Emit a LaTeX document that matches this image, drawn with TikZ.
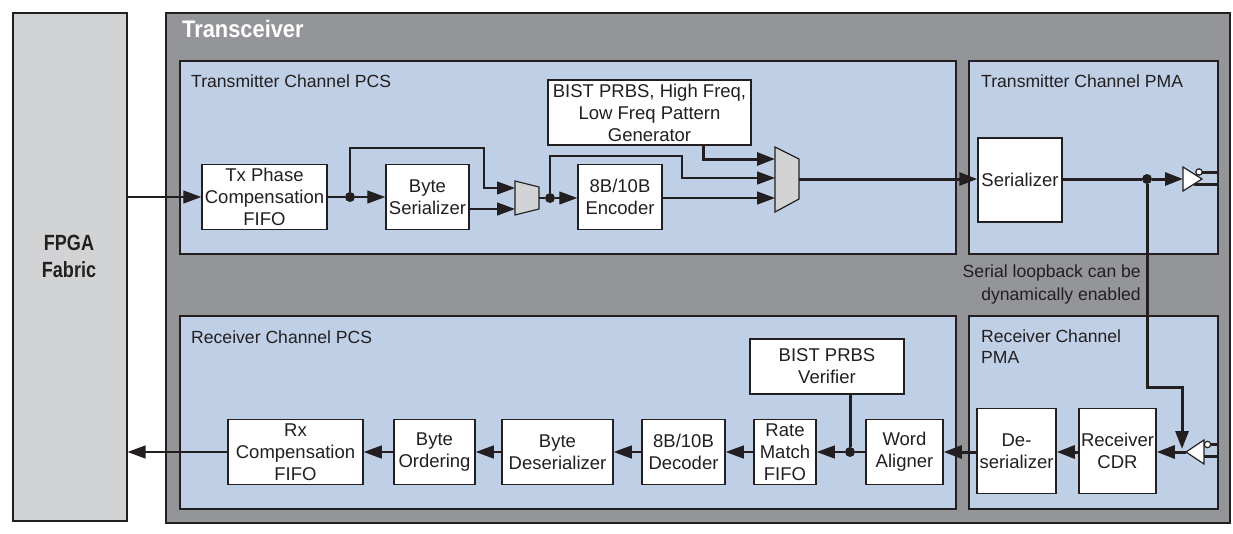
\documentclass[tikz,border=0pt]{standalone}
\usepackage{fontspec}
\setmainfont{Liberation Sans}
\usetikzlibrary{arrows.meta}
\definecolor{outergray}{HTML}{939598}
\definecolor{panelblue}{HTML}{BFD0E6}
\definecolor{fabricgray}{HTML}{D1D3D4}
\definecolor{ink}{HTML}{231F20}
\begin{document}
\begin{tikzpicture}[x=1pt,y=-1pt,
  every node/.style={font=\fontsize{18.5}{22}\selectfont, text=ink},
  blk/.style={draw=ink, line width=1.5pt, fill=white, inner sep=0pt, align=center},
  panel/.style={draw=ink, line width=1.6pt, fill=panelblue, inner sep=0pt, anchor=north west},
  ttl/.style={font=\fontsize{17.6}{21}\selectfont, anchor=base west, inner sep=0pt},
  thinw/.style={draw=ink, line width=1.3pt},
  thickw/.style={draw=ink, line width=3pt},
  arr/.style={-{Triangle[length=18pt,width=13pt]}},
  jdot/.style={circle, fill=ink, inner sep=0pt, minimum size=10pt},
  muxs/.style={draw=ink, line width=1.2pt, fill=fabricgray},
  bufs/.style={draw=ink, line width=1.2pt, fill=white},
]
\useasboundingbox (0,0) rectangle (1233,533);
\fill[white] (0,0) rectangle (1233,533);

% FPGA fabric
\node[draw=ink, fill=fabricgray, line width=1.6pt, inner sep=0pt, anchor=north west,
      minimum width=114, minimum height=508] (fabric) at (12,12) {};
\node[font=\bfseries\fontsize{22}{27}\selectfont, align=center, inner sep=0pt] (fablbl) at (69,256)
  {\scalebox{0.82}[1]{FPGA}\\\scalebox{0.82}[1]{Fabric}};

% Transceiver
\node[draw=ink, fill=outergray, line width=1.6pt, inner sep=0pt, anchor=north west,
      minimum width=1064, minimum height=510] (xcvr) at (165,12) {};
\node[anchor=base west, text=white, font=\bfseries\fontsize{24}{28}\selectfont, inner sep=0pt] (xlbl) at (182,37)
  {\scalebox{0.91}[1]{Transceiver}};

% panels
\node[panel, minimum width=776, minimum height=193] (txpcs) at (179,60) {};
\node[panel, minimum width=249, minimum height=193] (txpma) at (968,60) {};
\node[panel, minimum width=776, minimum height=193] (rxpcs) at (179,315) {};
\node[panel, minimum width=249, minimum height=193] (rxpma) at (968,315) {};

\node[ttl] (t1) at (191,87) {Transmitter Channel PCS};
\node[ttl] (t2) at (981,87) {Transmitter Channel PMA};
\node[ttl] (t3) at (191,343) {Receiver Channel PCS};
\node[ttl, anchor=north west, align=left, font=\fontsize{17.6}{21}\selectfont] (t4) at (981,330) {Receiver Channel\\PMA};
\node[anchor=north east, align=right, inner sep=0pt, font=\fontsize{17.6}{23}\selectfont] (lbtxt) at (1141,265)
  {Serial loopback can be\\dynamically enabled};

% transmit blocks
\node[blk, minimum width=125, minimum height=65] (txphase) at (264.5,197) {Tx Phase\\Compensation\\FIFO};
\node[blk, minimum width=83, minimum height=65] (byteser) at (427.5,197) {Byte\\Serializer};
\node[blk, minimum width=84, minimum height=65] (enc) at (620,197) {8B/10B\\Encoder};
\node[blk, minimum width=203, minimum height=65] (bist) at (649.5,112.5) {BIST PRBS, High Freq,\\Low Freq Pattern\\Generator};
\node[blk, minimum width=84, minimum height=84] (ser) at (1020,180) {Serializer};

% muxes
\draw[muxs] (515,181) -- (539,187) -- (539,209) -- (515,215) -- cycle;
\draw[muxs] (775,147) -- (799,159) -- (799,199) -- (775,212) -- cycle;
\coordinate (m1a) at (515,188);
\coordinate (m1b) at (515,209);
\coordinate (m1o) at (539,198);
\coordinate (m2a) at (775,159);
\coordinate (m2b) at (775,178);
\coordinate (m2c) at (775,198);
\coordinate (m2o) at (799,179);

\node[jdot] (d1) at (350,197) {};
\node[jdot] (d2) at (550,198) {};
\node[jdot] (d3) at (1147,179) {};

% tx buffer
\draw[bufs] (1183,167) -- (1202,179) -- (1183,191) -- cycle;
\coordinate (txb) at (1183,179);
\draw[bufs] (1199,172) circle (3.2pt);
\draw[thickw] (1202.2,172) -- (txpma.east |- 0,172);
\draw[thickw] (1194,184) -- (txpma.east |- 0,184);

% tx connectors
\draw[thinw,arr] (fabric.east |- txphase) -- (txphase.west);
\draw[thinw] (txphase.east) -- (d1);
\draw[thinw,arr] (d1) -- (byteser.west);
\draw[thinw,arr] (d1) |- (484,148) |- (m1a);
\draw[thinw,arr] (byteser.east |- m1b) -- (m1b);
\draw[thinw] (m1o) -- (d2);
\draw[thinw,arr] (d2) -- (enc.west |- d2);
\draw[thinw,arr] (d2) |- (682,156) |- (m2b);
\draw[thinw,arr] (enc.east |- m2c) -- (m2c);
\draw[thickw,arr] (703,0 |- bist.south) |- (m2a);
\draw[thickw,arr] (m2o) -- (ser.west |- m2o);
\draw[thickw] (ser.east |- m2o) -- (d3);
\draw[thickw,arr] (d3) -- (txb);

% receive blocks
\node[blk, minimum width=135, minimum height=65] (rxcomp) at (295.5,452) {Rx\\Compensation\\FIFO};
\node[blk, minimum width=81, minimum height=65] (byteord) at (434.5,452) {Byte\\Ordering};
\node[blk, minimum width=111, minimum height=65] (bytedes) at (557.5,452) {Byte\\Deserializer};
\node[blk, minimum width=83, minimum height=65] (dec) at (683.5,452) {8B/10B\\Decoder};
\node[blk, minimum width=62, minimum height=65] (rate) at (785,452) {Rate\\Match\\FIFO};
\node[blk, minimum width=77, minimum height=65] (word) at (904.5,452) {Word\\Aligner};
\node[blk, minimum width=154, minimum height=55] (verif) at (827,366.5) {BIST PRBS\\Verifier};
\node[blk, minimum width=79, minimum height=85] (deser) at (1016.5,451) {De-\\serializer};
\node[blk, minimum width=77, minimum height=85] (cdr) at (1117.5,451) {Receiver\\CDR};
\node[jdot] (d4) at (850,452) {};

% rx buffer
\draw[bufs] (1204,440) -- (1186,452) -- (1204,464) -- cycle;
\coordinate (rxin) at (1186,452);
\draw[bufs] (1207.5,444.5) circle (3.2pt);
\draw[thickw] (1210.7,444.5) -- (rxpma.east |- 0,444.5);
\draw[thickw] (1204,456) -- (rxpma.east |- 0,456);

% loopback
\draw[thickw,arr] (d3) |- (1182,387) -- (1182,449);

% rx connectors
\draw[thickw,arr] (rxin) -- (cdr.east |- rxin);
\draw[thickw,arr] (cdr.west |- rxin) -- (deser.east |- rxin);
\draw[thickw,arr] (deser.west |- rxin) -- (word.east);
\draw[thinw] (word.west) -- (d4);
\draw[thickw] (verif.south -| d4) -- (d4);
\draw[thinw,arr] (d4) -- (rate.east);
\draw[thinw,arr] (rate.west) -- (dec.east);
\draw[thinw,arr] (dec.west) -- (bytedes.east);
\draw[thinw,arr] (bytedes.west) -- (byteord.east);
\draw[thinw,arr] (byteord.west) -- (rxcomp.east);
\draw[thinw,arr] (rxcomp.west) -- (fabric.east |- rxcomp);
\end{tikzpicture}
\end{document}
